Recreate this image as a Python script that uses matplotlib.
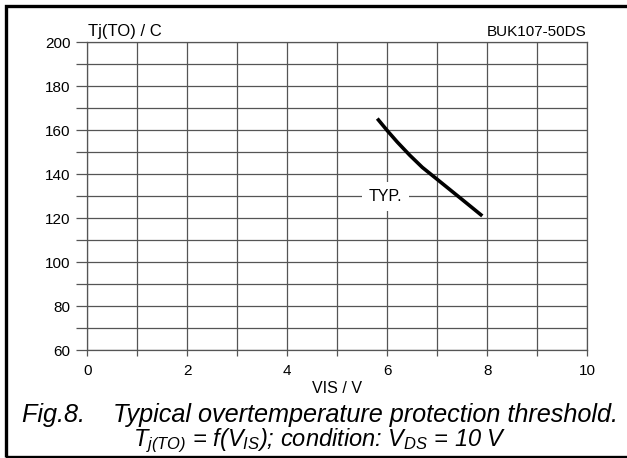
import matplotlib
matplotlib.use('Agg')
import matplotlib.pyplot as plt
from matplotlib.patches import Rectangle

# curve
vis = [5.8, 6.0, 6.2, 6.45, 6.7, 7.0, 7.25, 7.5, 7.7, 7.9]
tj = [165.3, 159.8, 154.6, 148.6, 143.1, 137.6, 133.0, 128.4, 124.7, 121.0]

x_ticks = [0, 2, 4, 6, 8, 10]
y_ticks = [60, 80, 100, 120, 140, 160, 180, 200]

plt.rcParams['font.family'] = ['Liberation Sans', 'DejaVu Sans']
plt.rcParams['mathtext.fontset'] = 'custom'
plt.rcParams['mathtext.it'] = 'Liberation Sans:italic'
plt.rcParams['mathtext.rm'] = 'Liberation Sans:italic'

fig = plt.figure(figsize=(6.27, 4.58), dpi=100)
ax = fig.add_axes([87.3 / 627, 1 - 350 / 458, 500 / 627, (350 - 42.3) / 458])

grid_col = '#555555'
ax.set_xlim(0, 10)
ax.set_ylim(60, 200)
ax.set_xticks(x_ticks)
ax.set_yticks(y_ticks)
ax.set_xticks(range(0, 11), minor=True)
ax.set_yticks(range(60, 201, 10), minor=True)
ax.grid(which='both', color=grid_col, linewidth=0.9)
ax.tick_params(axis='y', which='both', length=8, width=0.9, color=grid_col, labelsize=11, pad=4)
ax.tick_params(axis='x', which='both', length=4, width=0.9, color=grid_col, labelsize=11, pad=6)
for s in ax.spines.values():
    s.set_color(grid_col)
    s.set_linewidth(0.9)

ax.plot(vis, tj, color='black', linewidth=2.6, solid_capstyle='butt', solid_joinstyle='round')
ax.text(5.97, 130, 'TYP.', fontsize=11.5, ha='center', va='center',
        bbox=dict(facecolor='white', edgecolor='none', pad=5))

ax.set_xlabel('VIS / V', fontsize=11.5, labelpad=2)
fig.text(88 / 627, 1 - 36 / 458, 'Tj(TO) / C', fontsize=12, ha='left', va='baseline')
fig.text(587 / 627, 1 - 36 / 458, 'BUK107-50DS', fontsize=11, ha='right', va='baseline')

fig.text(22 / 627, 1 - 422 / 458, 'Fig.8.    Typical overtemperature protection threshold.',
         fontsize=18.2, style='italic', ha='left', va='baseline')
fig.text(320 / 627, 1 - 446 / 458,
         r'$T_{j(TO)}$ = f($V_{IS}$); condition: $V_{DS}$ = 10 V',
         fontsize=17, style='italic', ha='center', va='baseline')

# frame round the whole figure
fig.patches.append(Rectangle((5.5 / 627, 1 - 456.5 / 458), 640 / 627, 450.5 / 458,
                             transform=fig.transFigure, fill=False,
                             edgecolor='black', linewidth=2.4))

fig.savefig('out.png', dpi=100)
